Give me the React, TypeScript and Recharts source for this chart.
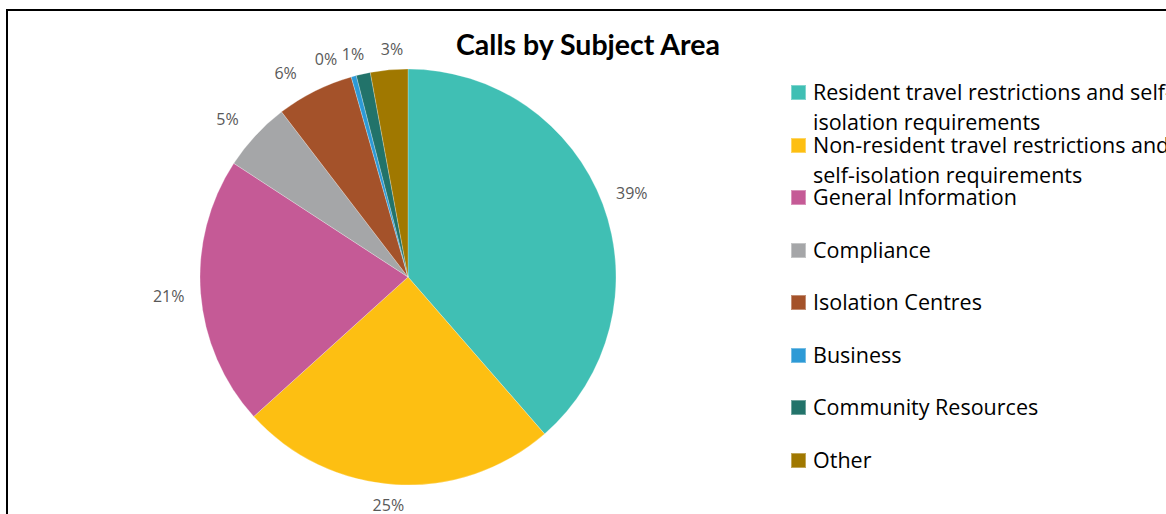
import { PieChart, Pie, Cell, Legend } from "recharts";

const categories = [
  "Resident travel restrictions and self-isolation requirements",
  "Non-resident travel restrictions and self-isolation requirements",
  "General Information",
  "Compliance",
  "Isolation Centres",
  "Business",
  "Community Resources",
  "Other",
];
const shares = [38.6, 24.7, 20.9, 5.4, 6.0, 0.4, 1.1, 2.9];
const colors = ["#40BFB4", "#FDBF12", "#C55A96", "#A5A6A8", "#A4522A", "#2D9AD6", "#22736A", "#A07800"];

const data = categories.map((name, i) => ({ name, value: shares[i] }));

const RAD = Math.PI / 180;
// label placement tweaks so the small slices' labels spread out like the original
const labelNudge = [0, -1.5, 0, 1.6, 4.3, 5.5, 1.4, -1.2];
const labelGap = [31, 21, 32, 32, 30, 25, 22, 21];

const renderLabel = (props: any) => {
  const { cx, cy, midAngle, outerRadius, percent, index } = props;
  const r = outerRadius + labelGap[index];
  const a = midAngle + labelNudge[index];
  const x = cx + r * Math.cos(-a * RAD);
  const y = cy + r * Math.sin(-a * RAD);
  return (
    <text
      x={x}
      y={y}
      fill="#595959"
      fontSize={16}
      fontFamily="Open Sans"
      textAnchor="middle"
      dominantBaseline="central"
    >
      {`${Math.round(percent * 100)}%`}
    </text>
  );
};

const LegendBox = () => (
  <div style={{ fontFamily: "Open Sans", fontSize: 21.5, color: "#000", width: 400 }}>
    {data.map((d, i) => (
      <div key={d.name} style={{ display: "flex", alignItems: "flex-start", height: 52.5, lineHeight: "30px" }}>
        <span
          style={{
            width: 15,
            height: 15,
            marginTop: 8,
            marginRight: 7,
            flex: "none",
            background: colors[i],
            border: "1px solid rgba(255,255,255,0.35)",
            boxSizing: "border-box",
          }}
        />
        <span style={{ width: 374, flex: "none", whiteSpace: "normal" }}>{d.name}</span>
      </div>
    ))}
  </div>
);

export default function App() {
  return (
    <div style={{ position: "absolute", left: 0, top: 0, width: 1166, height: 514, overflow: "hidden", background: "#fff" }}>
      <div
        style={{
          position: "absolute",
          left: 6,
          top: 9,
          width: 1300,
          height: 700,
          border: "2px solid #000",
          boxSizing: "border-box",
        }}
      />
      <div
        style={{
          position: "absolute",
          left: 388,
          top: 27,
          width: 400,
          textAlign: "center",
          fontFamily: "Lato",
          fontWeight: 700,
          fontSize: 28.5,
          color: "#000",
        }}
      >
        Calls by Subject Area
      </div>
      <div style={{ position: "absolute", left: 0, top: 0 }}>
        <PieChart width={1166} height={514} margin={{ top: 0, right: 0, bottom: 0, left: 0 }}>
          <Pie
            data={data}
            dataKey="value"
            nameKey="name"
            cx={408}
            cy={277}
            outerRadius={208}
            startAngle={90}
            endAngle={-270}
            label={renderLabel}
            labelLine={false}
            isAnimationActive={false}
            stroke="rgba(255,255,255,0.25)"
            strokeWidth={1}
          >
            {data.map((d, i) => (
              <Cell key={d.name} fill={colors[i]} />
            ))}
          </Pie>
          <Legend
            layout="vertical"
            align="right"
            verticalAlign="top"
            content={LegendBox}
            wrapperStyle={{ left: 791, top: 77, width: 400 }}
          />
        </PieChart>
      </div>
    </div>
  );
}
